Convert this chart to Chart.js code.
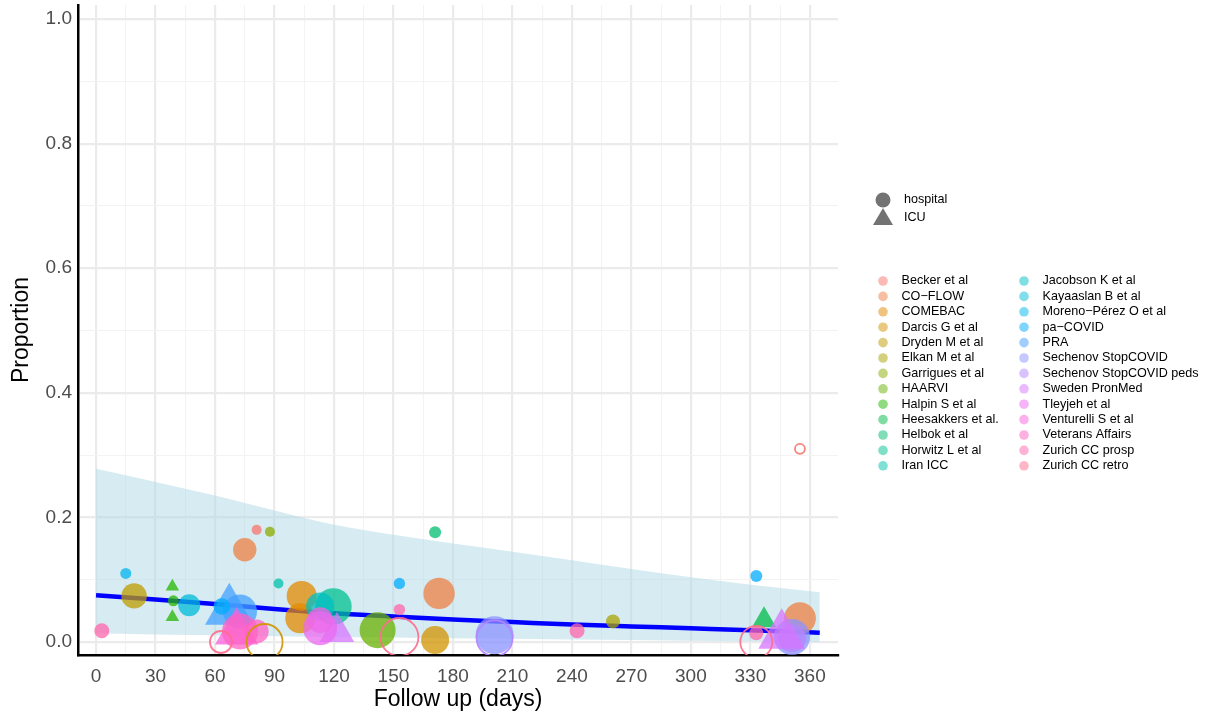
<!DOCTYPE html>
<html>
<head>
<meta charset="utf-8">
<script src="https://cdn.jsdelivr.net/npm/chart.js@4.4.0/dist/chart.umd.min.js"></script>
<style>
  html, body { margin: 0; padding: 0; background: #fff; }
</style>
</head>
<body>
<canvas id="myChart" width="1205" height="717"></canvas>
<script>
// estudios (orden de la leyenda)
const estudios = ['Becker et al', 'CO\u2212FLOW', 'COMEBAC', 'Darcis G et al', 'Dryden M et al', 'Elkan M et al',
  'Garrigues et al', 'HAARVI', 'Halpin S et al', 'Heesakkers et al.', 'Helbok et al', 'Horwitz L et al', 'Iran ICC',
  'Jacobson K et al', 'Kayaaslan B et al', 'Moreno\u2212P\u00e9rez O et al', 'pa\u2212COVID', 'PRA', 'Sechenov StopCOVID',
  'Sechenov StopCOVID peds', 'Sweden PronMed', 'Tleyjeh et al', 'Venturelli S et al', 'Veterans Affairs',
  'Zurich CC prosp', 'Zurich CC retro'];

// puntos observados
const ptEstudio = ['PRA', 'PRA', 'Kayaaslan B et al', 'pa\u2212COVID', 'Venturelli S et al', 'Veterans Affairs', 'Veterans Affairs',
  'Zurich CC retro', 'Darcis G et al', 'Dryden M et al', 'Zurich CC prosp', 'Moreno\u2212P\u00e9rez O et al', 'Halpin S et al',
  'Halpin S et al', 'Halpin S et al', 'Iran ICC', 'COMEBAC', 'COMEBAC', 'Horwitz L et al', 'Jacobson K et al',
  'Sweden PronMed', 'Venturelli S et al', 'Tleyjeh et al', 'HAARVI', 'Zurich CC retro', 'Zurich CC prosp', 'pa\u2212COVID',
  'CO\u2212FLOW', 'Darcis G et al', 'Sechenov StopCOVID', 'Sechenov StopCOVID peds', 'Becker et al', 'Garrigues et al',
  'CO\u2212FLOW', 'Helbok et al', 'Zurich CC prosp', 'Elkan M et al', 'pa\u2212COVID', 'Heesakkers et al.', 'CO\u2212FLOW',
  'Sechenov StopCOVID', 'Sechenov StopCOVID peds', 'Sweden PronMed', 'Zurich CC prosp', 'Zurich CC retro', 'Becker et al'];
const ptDias = [67.2, 72.6, 47, 63.4, 70.9, 72.6, 81, 63, 85, 19.2, 2.9, 15, 38.5, 39, 38.5, 92, 103.7, 103, 119.7, 113,
  121.5, 113, 113, 142, 153, 153, 153, 173, 171, 201, 201, 81, 87.7, 75, 171, 242.6, 260.7, 333, 336.9, 355,
  351, 351, 345.8, 333, 333, 355];
const ptProp = [0.050, 0.049, 0.059, 0.057, 0.016, 0.017, 0.017, 0.0, 0.0, 0.074, 0.018, 0.110, 0.089, 0.066, 0.040, 0.094,
  0.074, 0.038, 0.057, 0.057, 0.016, 0.035, 0.022, 0.019, 0.008, 0.052, 0.094, 0.078, 0.003, 0.011, 0.006, 0.180,
  0.177, 0.148, 0.176, 0.018, 0.033, 0.106, 0.035, 0.038, 0.008, 0.006, 0.011, 0.014, 0.0, 0.310];
const ptTamano = [28, 17, 11, 8.3, 25, 18, 12, 11, 18, 12.7, 7.5, 5.5, 7.8, 5.5, 7.8, 5, 15, 15, 18.3, 14, 20, 13, 17, 18,
  19, 5.7, 5.7, 15.7, 14, 19, 18, 5, 5, 11.7, 6, 7.5, 7, 6, 14, 16, 18, 14, 27, 7, 16, 5];
const ptTipo = ['ICU', 'hospital', 'hospital', 'hospital', 'ICU', 'hospital', 'hospital', 'hospital', 'hospital', 'hospital',
  'hospital', 'hospital', 'ICU', 'hospital', 'ICU', 'hospital', 'hospital', 'hospital', 'hospital', 'hospital', 'ICU',
  'hospital', 'hospital', 'hospital', 'hospital', 'hospital', 'hospital', 'hospital', 'hospital', 'hospital', 'hospital',
  'hospital', 'hospital', 'hospital', 'hospital', 'hospital', 'hospital', 'hospital', 'ICU', 'hospital', 'hospital',
  'hospital', 'ICU', 'hospital', 'hospital', 'hospital'];
const ptHueco = [false, false, false, false, false, false, false, true, true, false, false, false, false, false, false, false,
  false, false, false, false, false, false, false, false, true, false, false, false, false, false, true, false, false,
  false, false, false, false, false, false, false, false, false, false, false, true, true];

// curva ajustada y banda de confianza
const ajusteDias = [0, 30, 60, 90, 120, 150, 180, 210, 240, 270, 300, 330, 365];
const ajusteProp = [0.075, 0.068, 0.061, 0.053, 0.046, 0.041, 0.036, 0.032, 0.028, 0.025, 0.022, 0.019, 0.015];
const bandaSup = [0.278, 0.257, 0.235, 0.211, 0.188, 0.172, 0.158, 0.145, 0.131, 0.117, 0.104, 0.092, 0.080];
const bandaInf = [0.014, 0.012, 0.011, 0.009, 0.008, 0.007, 0.006, 0.005, 0.004, 0.003, 0.002, 0.001, 0.0005];

const xTicks = [0, 30, 60, 90, 120, 150, 180, 210, 240, 270, 300, 330, 360];
const yTicks = [0, 0.2, 0.4, 0.6, 0.8, 1.0];

const fuente = '"Liberation Sans", Arial, sans-serif';

// paleta hue de ggplot (hcl, l=65, c=100)
function colorHcl(h, alfa) {
  const rad = h * Math.PI / 180, l = 65, c = 100;
  const U = c * Math.cos(rad), V = c * Math.sin(rad);
  const Xn = 95.047, Yn = 100, Zn = 108.883;
  const den = Xn + 15 * Yn + 3 * Zn;
  const un = 4 * Xn / den, vn = 9 * Yn / den;
  const Y = Yn * Math.pow((l + 16) / 116, 3);
  const u = U / (13 * l) + un, v = V / (13 * l) + vn;
  const X = 9 * Y * u / (4 * v);
  const Z = -X / 3 - 5 * Y + 3 * Y / v;
  const x = X / 100, y = Y / 100, z = Z / 100;
  const lin = [3.240479 * x - 1.537150 * y - 0.498535 * z,
    -0.969256 * x + 1.875992 * y + 0.041556 * z,
    0.055648 * x - 0.204043 * y + 1.057311 * z];
  const rgb = lin.map(t => {
    const g = t <= 0.0031308 ? 12.92 * t : 1.055 * Math.pow(t, 1 / 2.4) - 0.055;
    return Math.round(Math.max(0, Math.min(1, g)) * 255);
  });
  return `rgba(${rgb[0]},${rgb[1]},${rgb[2]},${alfa})`;
}

function colorEstudio(nombre, alfa) {
  const i = estudios.indexOf(nombre);
  return colorHcl(15 + 360 * i / estudios.length, alfa);
}

const puntos = ptDias.map((d, i) => ({ x: d, y: ptProp[i] }));

const leyenda = {
  id: 'leyenda',
  afterDraw(chart) {
    const ctx = chart.ctx;
    ctx.save();
    ctx.font = '12.6px ' + fuente;
    ctx.textBaseline = 'middle';
    ctx.textAlign = 'left';

    // forma: hospital / ICU
    ctx.fillStyle = 'rgba(0,0,0,0.55)';
    ctx.beginPath();
    ctx.arc(883, 200, 7.5, 0, Math.PI * 2);
    ctx.fill();
    ctx.beginPath();
    ctx.moveTo(883, 208);
    ctx.lineTo(893, 225);
    ctx.lineTo(873, 225);
    ctx.closePath();
    ctx.fill();
    ctx.fillStyle = '#000';
    ctx.fillText('hospital', 904, 200);
    ctx.fillText('ICU', 904, 218);

    // color: estudios en dos columnas
    estudios.forEach((nombre, i) => {
      const col = Math.floor(i / 13), fila = i % 13;
      const kx = col === 0 ? 883 : 1024;
      const ky = 281 + fila * 15.4;
      ctx.fillStyle = colorEstudio(nombre, 0.5);
      ctx.beginPath();
      ctx.arc(kx, ky, 4.8, 0, Math.PI * 2);
      ctx.fill();
      ctx.fillStyle = '#000';
      ctx.fillText(nombre, kx + 18.5, ky);
    });
    ctx.restore();
  }
};

const ctx = document.getElementById('myChart').getContext('2d');
const myChart = new Chart(ctx, {
  type: 'scatter',
  data: {
    datasets: [
      {
        data: puntos,
        order: 0,
        pointRadius: c => ptTamano[c.dataIndex],
        pointHoverRadius: c => ptTamano[c.dataIndex],
        pointStyle: c => ptTipo[c.dataIndex] === 'ICU' ? 'triangle' : 'circle',
        backgroundColor: c => ptHueco[c.dataIndex] ? 'rgba(0,0,0,0)' : colorEstudio(ptEstudio[c.dataIndex], 0.75),
        borderColor: c => ptHueco[c.dataIndex] ? colorEstudio(ptEstudio[c.dataIndex], 0.9) : 'rgba(0,0,0,0)',
        borderWidth: c => ptHueco[c.dataIndex] ? 1.8 : 0
      },
      {
        type: 'line',
        data: ajusteDias.map((d, i) => ({ x: d, y: ajusteProp[i] })),
        order: 1,
        borderColor: '#0000FF',
        borderWidth: 4.5,
        pointRadius: 0,
        cubicInterpolationMode: 'monotone',
        fill: false
      },
      {
        type: 'line',
        data: ajusteDias.map((d, i) => ({ x: d, y: bandaInf[i] })),
        order: 3,
        borderWidth: 0,
        borderColor: 'rgba(0,0,0,0)',
        pointRadius: 0,
        fill: false
      },
      {
        type: 'line',
        data: ajusteDias.map((d, i) => ({ x: d, y: bandaSup[i] })),
        order: 2,
        borderWidth: 0,
        borderColor: 'rgba(0,0,0,0)',
        backgroundColor: 'rgba(173,216,230,0.5)',
        pointRadius: 0,
        cubicInterpolationMode: 'monotone',
        fill: '-1'
      }
    ]
  },
  options: {
    responsive: false,
    animation: false,
    devicePixelRatio: 1,
    layout: { autoPadding: false, padding: { left: 0, right: 367, top: 5, bottom: 0 } },
    plugins: {
      legend: { display: false },
      tooltip: { enabled: false }
    },
    scales: {
      x: {
        type: 'linear',
        min: -9.1,
        max: 374.2,
        afterFit: s => { s.height = 62; s.paddingLeft = 0; s.paddingRight = 0; },
        border: { display: true, color: '#000', width: 2.5 },
        grid: {
          drawTicks: false,
          color: c => c.tick && xTicks.includes(c.tick.value) ? '#EBEBEB' : '#F3F3F3',
          lineWidth: c => c.tick && xTicks.includes(c.tick.value) ? 2.2 : 1.1
        },
        ticks: {
          stepSize: 15,
          includeBounds: false,
          autoSkip: false,
          maxRotation: 0,
          padding: 10,
          color: '#4D4D4D',
          font: { size: 19, family: fuente },
          callback: v => xTicks.includes(v) ? String(v) : ''
        },
        title: {
          display: true,
          text: 'Follow up (days)',
          color: '#000',
          font: { size: 23, family: fuente },
          padding: { top: 0, bottom: 4 }
        }
      },
      y: {
        min: -0.0209,
        max: 1.0225,
        afterFit: s => { s.width = 78; s.paddingTop = 0; s.paddingBottom = 0; },
        border: { display: true, color: '#000', width: 2.5 },
        grid: {
          drawTicks: false,
          color: c => c.tick && Math.round(c.tick.value * 10) % 2 === 0 ? '#EBEBEB' : '#F3F3F3',
          lineWidth: c => c.tick && Math.round(c.tick.value * 10) % 2 === 0 ? 2.2 : 1.1
        },
        ticks: {
          stepSize: 0.1,
          includeBounds: false,
          autoSkip: false,
          padding: 6,
          color: '#4D4D4D',
          font: { size: 19, family: fuente },
          callback: v => yTicks.some(t => Math.abs(t - v) < 1e-6) ? v.toFixed(1) : ''
        },
        title: {
          display: true,
          text: 'Proportion',
          color: '#000',
          font: { size: 23, family: fuente },
          padding: { top: 8, bottom: 0 }
        }
      }
    }
  },
  plugins: [leyenda]
});
</script>
</body>
</html>
